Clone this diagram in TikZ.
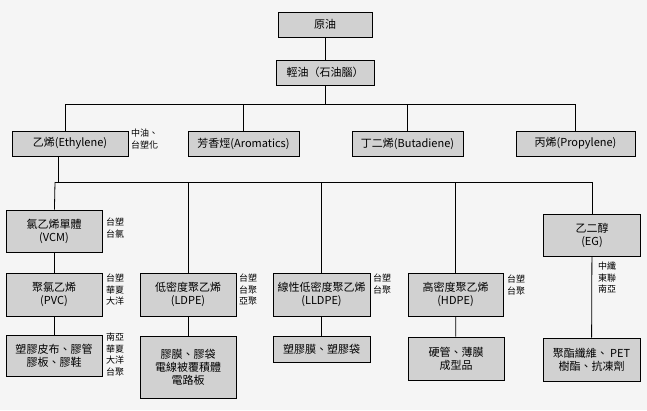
\documentclass[tikz,border=0pt]{standalone}
\usepackage{fontspec}
\setmainfont{Noto Sans CJK TC}
\usepackage{tikz}
\usetikzlibrary{positioning}

\begin{document}
\begin{tikzpicture}[x=1pt, y=-1pt, font=\fontsize{11}{13}\selectfont,
  box/.style = {draw, thick, fill=black!18, align=center, inner sep=1pt},
  firm/.style = {align=left, font=\fontsize{9}{11.5}\selectfont, inner sep=0pt, anchor=north west}]
  \useasboundingbox (0,0) rectangle (647,410);
  \fill[black!4] (0,0) rectangle (647,410);
  % top
  \node (crude)  at (325,24.5) [box, minimum width=94, minimum height=25] {原油};
  \node (naph)   at (325,72.5) [box, minimum width=98, minimum height=25] {輕油（石油腦）};
  \node (eth)    at (70,143.5) [box, minimum width=116, minimum height=25] {乙烯(Ethylene)};
  \node (aro)    at (243.5,143.5) [box, minimum width=111, minimum height=25] {芳香烴(Aromatics)};
  \node (but)    at (407.5,143.5) [box, minimum width=111, minimum height=25] {丁二烯(Butadiene)};
  \node (pro)    at (575.5,143.5) [box, minimum width=119, minimum height=25] {丙烯(Propylene)};
  \node (fEth) at (131,129) [firm] {中油、\\台塑化};
  % ethylene products
  \node (vcm)  at (54,231) [box, minimum width=96, minimum height=42] {氯乙烯單體\\(VCM)};
  \node (pvc)  at (54,294.5) [box, minimum width=96, minimum height=43] {聚氯乙烯\\(PVC)};
  \node (ldpe) at (188,294.5) [box, minimum width=96, minimum height=43] {低密度聚乙烯\\(LDPE)};
  \node (lldpe) at (321.5,294.5) [box, minimum width=97, minimum height=43, inner sep=0pt] {線性低密度聚乙烯\\(LLDPE)};
  \node (hdpe) at (455.5,294.5) [box, minimum width=95, minimum height=43] {高密度聚乙烯\\(HDPE)};
  \node (eg)   at (592,235) [box, minimum width=97, minimum height=42] {乙二醇\\(EG)};
  \node (uPvc) at (54,355.5) [box, minimum width=96, minimum height=41, inner sep=0pt] {塑膠皮布、膠管\\膠板、膠鞋};
  \node (uLdpe) at (188,367) [box, minimum width=96, minimum height=62] {膠膜、膠袋\\電線被覆積體\\電路板};
  \node (uLldpe) at (321.5,349) [box, minimum width=97, minimum height=26] {塑膠膜、塑膠袋};
  \node (uHdpe) at (456,358.5) [box, minimum width=96, minimum height=43] {硬管、薄膜\\成型品};
  \node (uEg)  at (591.5,359.5) [box, minimum width=97, minimum height=43, inner sep=0pt] {聚酯纖維、 PET\\樹酯、抗凍劑};
  % makers
  \node (fVcm)  at (106,218) [firm] {台塑\\台氯};
  \node (fPvc)  at (106,274) [firm] {台塑\\華夏\\大洋};
  \node (fUPvc) at (106,333) [firm] {南亞\\華夏\\大洋\\台聚};
  \node (fLdpe) at (239,274) [firm] {台塑\\台聚\\亞聚};
  \node (fLldpe) at (373,274) [firm] {台塑\\台聚};
  \node (fHdpe) at (507,275) [firm] {台塑\\台聚};
  \node (fEg)   at (598,262) [firm] {中纖\\東聯\\南亞};
  % lines
  \coordinate (busA) at (65,104);
  \coordinate (busB) at (575,104);
  \coordinate (busC) at (55,182);
  \coordinate (busD) at (592,182);
  \draw[thick] (crude) -- (naph);
  \draw[thick] (naph) -- (325,104);
  \draw[thick] (busA) -- (busB);
  \draw[thick] (busA) -- (busA |- eth.north);
  \draw[thick] (243.5,104) -- (aro);
  \draw[thick] (407.5,104) -- (but);
  \draw[thick] (busB) -- (busB |- pro.north);
  \draw[thick] (58,156) -- (58,182);
  \draw[thick] (busC) -- (busD);
  \draw[thick] (busC) -- (vcm);
  \draw[thick] (vcm) -- (pvc);
  \draw[thick] (pvc) -- (uPvc);
  \draw[thick] (188,182) -- (ldpe);
  \draw[thick] (ldpe) -- (uLdpe);
  \draw[thick] (321.5,182) -- (lldpe);
  \draw[thick] (lldpe) -- (uLldpe);
  \draw[thick] (455.5,182) -- (hdpe);
  \draw[thick] (hdpe) -- (uHdpe);
  \draw[thick] (busD) -- (eg);
  \draw[thick] (eg) -- (uEg);
\end{tikzpicture}
\end{document}
